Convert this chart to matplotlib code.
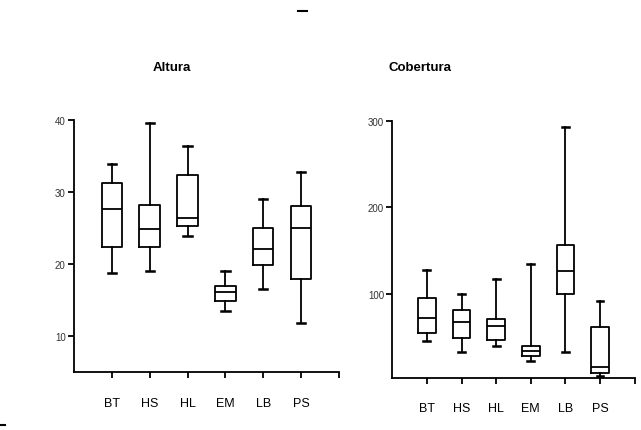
import matplotlib
matplotlib.use("Agg")
import matplotlib.pyplot as plt

FONT = ["Liberation Sans Narrow", "Liberation Sans", "DejaVu Sans"]

groups = ["BT", "HS", "HL", "EM", "LB", "PS"]

# Altura: whisker low, Q1, median, Q3, whisker high
alt_low = [18.7, 19.0, 23.9, 13.5, 16.5, 11.9]
alt_q1 = [22.4, 22.3, 25.3, 14.9, 19.9, 17.9]
alt_med = [27.6, 24.9, 26.4, 16.1, 22.1, 25.0]
alt_q3 = [31.2, 28.2, 32.3, 16.9, 25.0, 28.0]
alt_high = [33.9, 39.6, 36.4, 19.0, 29.0, 32.8]

# Cobertura
cob_low = [45.4, 33.0, 40.0, 22.7, 33.0, 5.8]
cob_q1 = [55.4, 48.8, 47.0, 28.0, 100.4, 8.8]
cob_med = [72.7, 68.0, 63.0, 33.8, 126.0, 16.0]
cob_q3 = [95.0, 81.5, 71.5, 40.0, 157.0, 62.3]
cob_high = [127.7, 100.4, 117.7, 135.0, 293.0, 92.0]


def stats(low, q1, med, q3, high):
    return [dict(label=g, whislo=a, q1=b, med=c, q3=d, whishi=e, fliers=[])
            for g, a, b, c, d, e in zip(groups, low, q1, med, q3, high)]


def draw(ax, st, ylim, yticks, width, capw, labpad):
    lw = 1.3
    ax.bxp(st, positions=range(1, len(st) + 1), widths=width,
           showfliers=False, capwidths=capw,
           boxprops=dict(color="black", linewidth=lw),
           medianprops=dict(color="black", linewidth=lw),
           whiskerprops=dict(color="black", linewidth=lw),
           capprops=dict(color="black", linewidth=lw * 1.4))
    ax.set_xlim(0, 7)
    ax.set_ylim(*ylim)
    ax.set_xticks(range(1, 8))
    ax.set_xticklabels(groups + [""], fontsize=9, family=FONT)
    ax.set_yticks(yticks)
    ax.set_yticklabels([str(t) for t in yticks], fontsize=7, family=FONT,
                       color="#333333")
    for s in ("top", "right"):
        ax.spines[s].set_visible(False)
    for s in ("left", "bottom"):
        ax.spines[s].set_linewidth(1.3)
    ax.tick_params(axis="x", length=4, width=1.3, pad=labpad)
    ax.tick_params(axis="y", length=4, width=1.3, pad=2)


fig = plt.figure(figsize=(6.41, 4.31), dpi=100)

ax1 = fig.add_axes([0.1154, 0.1353, 0.4134, 0.5847])
draw(ax1, stats(alt_low, alt_q1, alt_med, alt_q3, alt_high),
     (5.1, 40), [10, 20, 30, 40], 0.54, 0.22, 14)

ax2 = fig.add_axes([0.612, 0.120, 0.378, 0.5977])
draw(ax2, stats(cob_low, cob_q1, cob_med, cob_q3, cob_high),
     (2.7, 300), [100, 200, 300], 0.51, 0.2, 13)

fig.text(0.268, 0.842, "Altura", ha="center", va="center", fontsize=9.5,
         fontweight="bold", family=FONT)
fig.text(0.655, 0.842, "Cobertura", ha="center", va="center", fontsize=9.5,
         fontweight="bold", family=FONT)

# stray dashes in the original image
fig.lines.append(plt.Line2D([298 / 641, 307 / 641], [1 - 12 / 431] * 2,
                            transform=fig.transFigure, color="black", lw=1.5))
fig.lines.append(plt.Line2D([0, 5 / 641], [1 - 426 / 431] * 2,
                            transform=fig.transFigure, color="black", lw=1.5))

fig.savefig("out.png", dpi=100)
